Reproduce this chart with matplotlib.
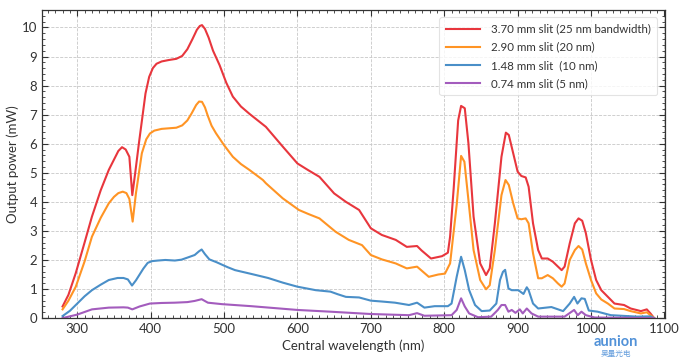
import numpy as np
import matplotlib
matplotlib.use("Agg")
import matplotlib.pyplot as plt
from matplotlib.ticker import MultipleLocator

plt.rcParams['font.family'] = ['Lato', 'Noto Sans CJK SC', 'DejaVu Sans']

# (wavelength nm, output power mW)
red_pts = [(280, 0.4), (288, 0.8), (298, 1.55), (310, 2.6), (320, 3.49), (332, 4.4), (343, 5.1),
           (350, 5.45), (356, 5.75), (361, 5.88), (366, 5.8), (371, 5.55), (375, 4.23), (379, 5.0),
           (384, 6.01), (393, 7.73), (398, 8.3), (403, 8.6), (408, 8.75), (415, 8.83), (425, 8.88),
           (435, 8.92), (443, 9.02), (450, 9.25), (457, 9.6), (463, 9.92), (467, 10.05), (470, 10.08),
           (474, 9.95), (479, 9.65), (485, 9.2), (494, 8.7), (503, 8.1), (512, 7.62), (523, 7.28),
           (535, 7.02), (557, 6.58), (580, 5.9), (600, 5.32), (614, 5.1), (630, 4.86), (650, 4.29),
           (666, 4.0), (684, 3.72), (700, 3.09), (715, 2.86), (734, 2.69), (749, 2.45), (763, 2.48),
           (769, 2.33), (782, 2.05), (797, 2.13), (805, 2.25), (808, 2.8), (813, 4.5), (819, 6.8),
           (823, 7.3), (828, 7.22), (833, 6.01), (840, 3.49), (849, 1.88), (857, 1.48), (862, 1.71),
           (869, 3.26), (878, 5.55), (884, 6.38), (888, 6.3), (894, 5.67), (900, 5.04), (905, 4.89),
           (911, 4.84), (915, 4.52), (921, 3.26), (928, 2.34), (933, 2.05), (941, 2.05), (948, 1.94),
           (955, 1.77), (960, 1.65), (964, 1.77), (971, 2.57), (978, 3.26), (983, 3.43), (988, 3.35),
           (993, 2.92), (1000, 2.0), (1007, 1.31), (1014, 0.96), (1023, 0.73), (1032, 0.5), (1045, 0.45),
           (1054, 0.33), (1068, 0.24), (1076, 0.3), (1081, 0.16), (1086, 0.0)]

orange_pts = [(280, 0.3), (288, 0.6), (298, 1.08), (310, 1.95), (320, 2.8), (332, 3.45), (343, 3.95),
              (350, 4.17), (356, 4.3), (362, 4.35), (367, 4.3), (371, 4.1), (375.5, 3.32), (380, 4.3),
              (388, 5.67), (394, 6.15), (399, 6.35), (405, 6.45), (415, 6.51), (425, 6.53), (435, 6.55),
              (443, 6.63), (450, 6.8), (456, 7.05), (462, 7.33), (466, 7.45), (470, 7.44), (474, 7.25),
              (478, 6.95), (483, 6.62), (489, 6.36), (500, 5.95), (512, 5.55), (523, 5.3), (535, 5.09),
              (553, 4.75), (557, 4.64), (580, 4.12), (602, 3.72), (615, 3.58), (630, 3.43), (652, 2.97),
              (670, 2.69), (688, 2.51), (700, 2.17), (715, 2.02), (734, 1.88), (749, 1.71), (763, 1.77),
              (779, 1.42), (792, 1.5), (801, 1.53), (808, 1.88), (817, 3.9), (823, 5.58), (827.5, 5.38),
              (833, 4.06), (840, 2.34), (849, 1.31), (857, 0.99), (862, 1.13), (869, 2.34), (878, 4.23),
              (883.5, 4.75), (888, 4.58), (894, 3.95), (900, 3.43), (905, 3.4), (911, 3.43), (915, 3.26),
              (921, 2.23), (928, 1.37), (933, 1.37), (941, 1.48), (948, 1.37), (955, 1.19), (960, 1.08),
              (964, 1.19), (971, 2.0), (978, 2.34), (983, 2.48), (988, 2.36), (993, 1.88), (1000, 1.31),
              (1007, 0.85), (1014, 0.64), (1023, 0.5), (1032, 0.33), (1045, 0.31), (1054, 0.24),
              (1068, 0.16), (1076, 0.2), (1081, 0.1), (1086, 0.0)]

blue_pts = [(280, 0.07), (290, 0.25), (300, 0.5), (310, 0.75), (320, 0.96), (332, 1.15), (343, 1.31),
            (355, 1.38), (363, 1.38), (369, 1.33), (374.6, 1.12), (380, 1.3), (390, 1.7), (396, 1.9),
            (402, 1.96), (410, 1.98), (420, 2.0), (433, 1.98), (442, 2.01), (450, 2.08), (460, 2.17),
            (466, 2.3), (469.5, 2.36), (474, 2.2), (480, 2.02), (490, 1.92), (497, 1.84), (505, 1.75),
            (515, 1.65), (537, 1.52), (560, 1.38), (580, 1.22), (600, 1.08), (625, 0.96), (645, 0.91),
            (655, 0.82), (666, 0.73), (684, 0.71), (700, 0.6), (715, 0.57), (733, 0.53), (752, 0.45),
            (763, 0.53), (773, 0.36), (787, 0.41), (805, 0.41), (810, 0.5), (817, 1.42), (823, 2.11),
            (828, 1.65), (834, 0.96), (842, 0.45), (851, 0.24), (862, 0.26), (871, 0.5), (876, 1.31),
            (880, 1.59), (883, 1.66), (887.5, 1.02), (892, 0.96), (901, 0.96), (908, 0.83), (912.5, 1.06),
            (915, 0.96), (921, 0.5), (928, 0.33), (946, 0.38), (962, 0.24), (971, 0.5), (977, 0.73),
            (981.5, 0.5), (987, 0.68), (991.5, 0.66), (997, 0.26), (1009, 0.22), (1027, 0.1),
            (1063, 0.05), (1081, 0.06), (1086, 0.0)]

purple_pts = [(280, 0.0), (300, 0.12), (320, 0.3), (343, 0.36), (363, 0.37), (369, 0.36), (375, 0.3),
              (385, 0.4), (399, 0.5), (415, 0.52), (433, 0.53), (450, 0.55), (460, 0.59), (469.5, 0.65),
              (478, 0.53), (497, 0.48), (537, 0.41), (600, 0.28), (645, 0.22), (700, 0.14), (752, 0.1),
              (763, 0.17), (773, 0.08), (810, 0.1), (817, 0.28), (823, 0.68), (828, 0.4), (834, 0.16),
              (846, 0.03), (864, 0.05), (873, 0.28), (878, 0.45), (883, 0.45), (887.5, 0.22), (892, 0.28),
              (897, 0.18), (903, 0.3), (907, 0.16), (912.5, 0.33), (919, 0.16), (928, 0.05), (964, 0.05),
              (977, 0.28), (982, 0.1), (987, 0.22), (993, 0.1), (1005, 0.02), (1086, 0.0)]

labels = ['3.70 mm slit (25 nm bandwidth)', '2.90 mm slit (20 nm)',
          '1.48 mm slit  (10 nm)', '0.74 mm slit (5 nm)']
colors = ['#e8363d', '#ff9424', '#4a8fc8', '#a35cbd']
xticks = [300, 400, 500, 600, 700, 800, 900, 1000, 1100]

fig = plt.figure(figsize=(6.81, 3.57), dpi=100)
ax = fig.add_axes([0.0617, 0.109, 0.915, 0.863])

for pts, lab, col in zip([red_pts, orange_pts, blue_pts, purple_pts], labels, colors):
    x, y = np.array(pts).T
    ax.plot(x, y, color=col, lw=1.5, label=lab)

ax.set_xticks(xticks)
ax.set_xticklabels([str(v) for v in xticks])
ax.set_xlim(252, 1101)
ax.set_ylim(0, 10.6)
ax.xaxis.set_minor_locator(MultipleLocator(10))
ax.yaxis.set_major_locator(MultipleLocator(1))
ax.yaxis.set_minor_locator(MultipleLocator(0.2))
ax.tick_params(which='both', direction='in', top=True, right=True, colors='#333333',
               labelsize=9.5, labelcolor='#333333')
ax.tick_params(which='major', length=4, width=0.8)
ax.tick_params(which='minor', length=2, width=0.6)
for s in ax.spines.values():
    s.set_color('#333333')
    s.set_linewidth(0.9)
ax.grid(True, which='major', ls='--', lw=0.6, color='#c8c8c8')

ax.set_xlabel('Central wavelength (nm)', fontsize=9.5, color='#333333', labelpad=3)
ax.set_ylabel('Output power (mW)', fontsize=9.5, color='#333333', labelpad=2)

leg = ax.legend(loc='upper right', fontsize=8.3, frameon=True, fancybox=True,
                handlelength=3.0, handletextpad=0.9, borderpad=0.55, labelspacing=0.62,
                bbox_to_anchor=(0.996, 0.995))
leg.get_frame().set_edgecolor('#dddddd')
leg.get_frame().set_linewidth(0.8)
for t in leg.get_texts():
    t.set_color('#333333')

# watermark
fig.text(0.905, 0.022, 'aunion', fontsize=10.5, fontweight='bold', color='#3f86d4',
         ha='center', va='bottom', alpha=0.9)
fig.text(0.905, 0.0, '昊量光电', fontsize=5.5, color='#3f86d4', ha='center', va='bottom',
         alpha=0.8)

fig.savefig('out.png', dpi=100)
